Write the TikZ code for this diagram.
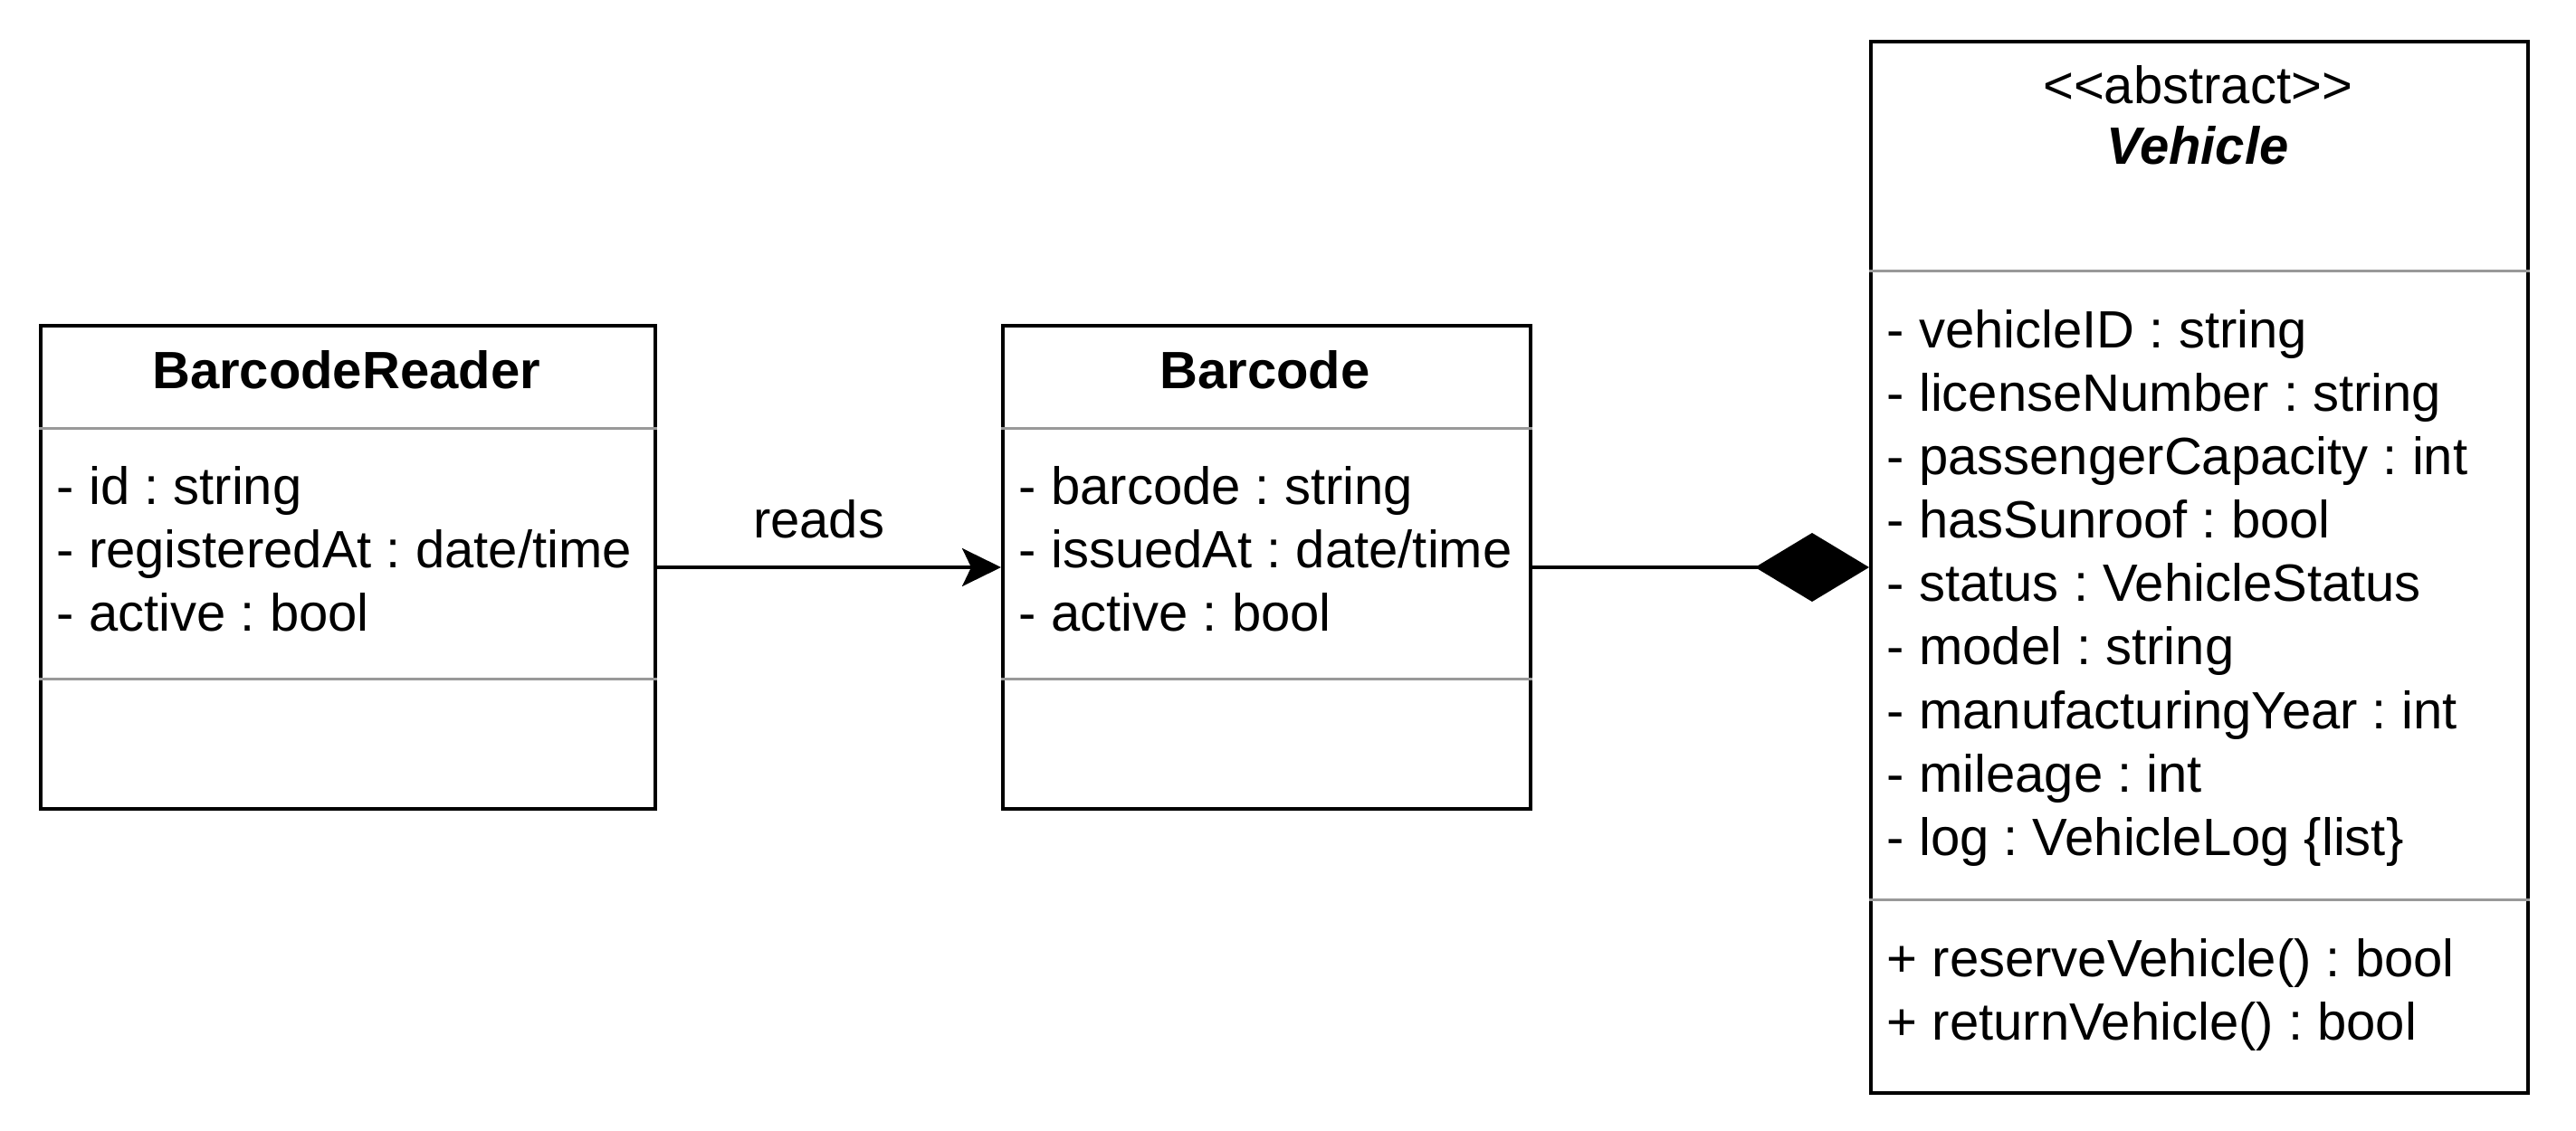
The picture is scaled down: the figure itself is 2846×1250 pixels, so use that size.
\documentclass[tikz,border=0pt]{standalone}
\usepackage{fontspec}
\setmainfont{Liberation Sans}
\usepackage{tikz}
\usetikzlibrary{arrows.meta}

\newcommand{\umlfont}{\fontsize{14.5pt}{17.4pt}\selectfont}
\frenchspacing

\tikzset{
  classbox/.style={draw=black, line width=1pt, inner sep=0pt, anchor=north west},
  sepline/.style={draw=black!40, line width=0.75pt},
  member/.style={anchor=base west, inner sep=0pt, font=\umlfont},
  classtitle/.style={anchor=base, inner sep=0pt, font=\umlfont\bfseries},
  assoc/.style={line width=0.85pt, -{Stealth[length=10.75pt, width=10.5pt, inset=2.5pt]}},
  compose/.style={line width=0.85pt, -{Diamond[length=31.5pt, width=19pt]}},
}

\begin{document}
\begin{tikzpicture}[x=0.25pt, y=-0.25pt]
            \useasboundingbox (0,0) rectangle (2846,1250);
            % class boxes
            \node[classbox, minimum width=169.75pt, minimum height=133.5pt] (reader) at (43,358) {};
            \node[classbox, minimum width=145.75pt, minimum height=133.5pt] (barcode) at (1106,358) {};
            \node[classbox, minimum width=181.5pt, minimum height=290.5pt] (vehicle) at (2065,44) {};
            % compartment lines
            \draw[sepline] (reader.west |- 0,474) -- (reader.east |- 0,474);
            \draw[sepline] (reader.west |- 0,751) -- (reader.east |- 0,751);
            \draw[sepline] (barcode.west |- 0,474) -- (barcode.east |- 0,474);
            \draw[sepline] (barcode.west |- 0,751) -- (barcode.east |- 0,751);
            \draw[sepline] (vehicle.west |- 0,300) -- (vehicle.east |- 0,300);
            \draw[sepline] (vehicle.west |- 0,994) -- (vehicle.east |- 0,994);
            % BarcodeReader
            \node[classtitle] (readerName) at (382.5,430) {BarcodeReader};
            \node[member] (readerId) at (62,558) {- id : string};
            \node[member] (readerReg) at (62,628) {- registeredAt : date/time};
            \node[member] (readerAct) at (62,698) {- active : bool};
            % Barcode
            \node[classtitle] (barcodeName) at (1397.5,430) {Barcode};
            \node[member] (barcodeCode) at (1125,558) {- barcode : string};
            \node[member] (barcodeIssued) at (1125,628) {- issuedAt : date/time};
            \node[member] (barcodeAct) at (1125,698) {- active : bool};
            % Vehicle
            \node[member, anchor=base] (vehicleStereo) at (2428,115) {<\kern0pt<abstract>\kern0pt>};
            \node[classtitle] (vehicleName) at (2428,182) {\itshape Vehicle};
            \node[member] (vehicleId) at (2084,385) {- vehicleID : string};
            \node[member] (vehicleLic) at (2084,455) {- licenseNumber : string};
            \node[member] (vehiclePass) at (2084,525) {- passengerCapacity : int};
            \node[member] (vehicleSun) at (2084,595) {- hasSunroof : bool};
            \node[member] (vehicleStatus) at (2084,665) {- status : VehicleStatus};
            \node[member] (vehicleModel) at (2084,735) {- model : string};
            \node[member] (vehicleYear) at (2084,805) {- manufacturingYear : int};
            \node[member] (vehicleMiles) at (2084,875) {- mileage : int};
            \node[member] (vehicleLog) at (2084,945) {- log : VehicleLog \{list\}};
            \node[member] (vehicleReserve) at (2084,1079) {+ reserveVehicle() : bool};
            \node[member] (vehicleReturn) at (2084,1149) {+ returnVehicle() : bool};
            % relations
            \draw[assoc] (reader) -- node[pos=0.47, anchor=base, yshift=8pt, inner sep=0pt, font=\umlfont] (readsLabel) {reads} (barcode);
            \draw[compose] (barcode) -- (vehicle);
        \end{tikzpicture}
\end{document}
